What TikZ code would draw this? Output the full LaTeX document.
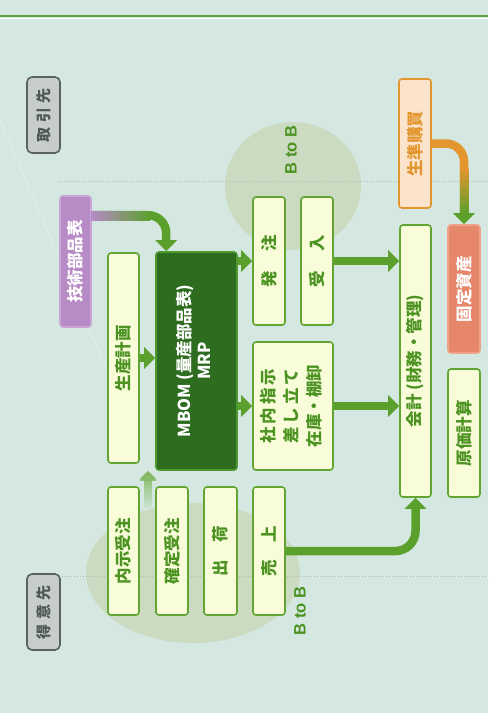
\documentclass[tikz,border=0pt]{standalone}
\usepackage{fontspec}
\setmainfont{Noto Sans CJK JP}
\newfontfamily\latinfont{Liberation Sans}
\usetikzlibrary{arrows.meta,fadings,calc}
\definecolor{bg}{HTML}{D4E8E1}
\definecolor{bgreen}{HTML}{62A532}
\definecolor{bfill}{HTML}{F9FCD9}
\definecolor{tgreen}{HTML}{4C9322}
\definecolor{agreen}{HTML}{5BA02C}
\definecolor{mbomfill}{HTML}{2E6C20}
\definecolor{mbomline}{HTML}{4E9A30}
\definecolor{purp}{HTML}{B68BC6}
\definecolor{purpline}{HTML}{C9A6D5}
\definecolor{orangeC}{HTML}{E3952E}
\definecolor{ofill}{HTML}{FBE4CB}
\definecolor{kfill}{HTML}{E6876B}
\definecolor{kline}{HTML}{EFA18A}
\definecolor{gfill}{HTML}{C6CDCA}
\definecolor{gline}{HTML}{5A615E}
\definecolor{gtext}{HTML}{505854}
\definecolor{ellC}{HTML}{CADBC2}
\definecolor{topline}{HTML}{5FA63A}
\newcommand\rt[1]{\rotatebox{90}{#1}}
\newcommand\spreadtxt[2]{\makebox[#1pt]{#2}}
\begin{document}
\begin{tikzpicture}[x=1pt,y=-1pt,
  box/.style={draw=bgreen,line width=1.6pt,fill=bfill,rounded corners=3pt,inner sep=0pt,
    text=tgreen,font=\fontsize{16.5}{19}\selectfont\bfseries},
  gbox/.style={box,draw=gline,fill=gfill,text=gtext,rounded corners=5pt,font=\fontsize{15}{18}\selectfont\bfseries},
  obox/.style={box,draw=orangeC,fill=ofill,text=orangeC},
  sz/.style 2 args={minimum width=#1pt,minimum height=#2pt},
  arr/.style={draw=agreen,line width=8.5pt,-{Triangle[width=21pt,length=11pt]}},
  dotline/.style={draw=gray!60,dotted,line width=1pt},
  btob/.style={text=tgreen,font=\fontsize{16.5}{19}\latinfont\bfseries,rotate=90,inner sep=0pt},
]
\useasboundingbox (0,0) rectangle (488,713);
\fill[bg] (0,0) rectangle (488,713);
\draw[topline,line width=1.5pt] (0,16) -- (488,16);
\draw[white,line width=0.8pt] (0,18.5) -- (488,18.5);
% faint background lines
\draw[white,opacity=0.35,line width=0.6pt] (0,120) -- (120,400);
\draw[white,opacity=0.3,line width=0.6pt] (0,60) -- (90,330);
% ellipses
\fill[ellC] (293,186) ellipse [x radius=68, y radius=64];
\fill[ellC] (193,573) ellipse [x radius=107, y radius=70];
% dotted lines
\coordinate (d1a) at (58,181);
\coordinate (d1b) at (488,181);
\coordinate (d2a) at (62,576);
\coordinate (d2b) at (488,576);
\draw[dotline] (d1a) -- (d1b);
\draw[dotline] (d2a) -- (d2b);
% labels
\node[btob] (bb1) at (291,150) {B to B};
\node[btob] (bb2) at (300,611) {B to B};
% boxes
\node[gbox,sz={33}{76}] (tori) at (43.5,115) {\rt{\spreadtxt{54}{取\hfill 引\hfill 先}}};
\node[gbox,sz={33}{76}] (tokui) at (43.5,612) {\rt{\spreadtxt{54}{得\hfill 意\hfill 先}}};
\node[box,fill=purp,draw=purpline,text=white,sz={31}{131}] (giju) at (75.5,261.5) {\rt{技術部品表}};
\node[box,sz={31}{210}] (seisan) at (123.5,358) {\rt{生産計画}};
\node[box,fill=mbomfill,draw=mbomline,text=white,sz={81}{218},
  font=\fontsize{16.5}{20}\selectfont\bfseries] (mbom) at (196.5,361)
  {\rt{\begin{tabular}{@{}c@{}}MBOM (量産部品表)\\MRP\end{tabular}}};
\node[box,sz={32}{128}] (hacchu) at (269,261) {\rt{\spreadtxt{52}{発\hfill 注}}};
\node[box,sz={32}{128}] (ukeire) at (317,261) {\rt{\spreadtxt{52}{受\hfill 入}}};
\node[box,sz={80}{128},font=\fontsize{16.5}{23}\selectfont\bfseries] (shanai) at (293,406)
  {\rt{\begin{tabular}{@{}c@{}}\spreadtxt{75}{社\hfill 内\hfill 指\hfill 示}\\\spreadtxt{75}{差\hfill し\hfill 立\hfill て}\\\spreadtxt{75}{在庫・棚卸}\end{tabular}}};
\node[box,sz={31}{272}] (kaikei) at (415.5,361) {\rt{会計 (財務・管理)}};
\node[obox,sz={32}{129}] (seijun) at (415,143.5) {\rt{生準購買}};
\node[box,fill=kfill,draw=kline,text=white,sz={32}{128}] (kotei) at (464,289) {\rt{固定資産}};
\node[box,sz={32}{128}] (genka) at (464,433) {\rt{原価計算}};
\node[box,sz={31}{128}] (naiji) at (123.5,551) {\rt{内示受注}};
\node[box,sz={32}{128}] (kakutei) at (172,551) {\rt{確定受注}};
\node[box,sz={33}{128}] (shukka) at (220.5,551) {\rt{\spreadtxt{50}{出\hfill 荷}}};
\node[box,sz={32}{128}] (uriage) at (269,551) {\rt{\spreadtxt{50}{売\hfill 上}}};
% arrows
\draw[arr] (seisan.east) -- (seisan.east -| mbom.west);
\draw[arr] (mbom.east |- hacchu.west) -- (hacchu.west);
\draw[arr] (mbom.east |- shanai.west) -- (shanai.west);
\draw[arr] (ukeire.east) -- (ukeire.east -| kaikei.west);
\draw[arr] (shanai.east) -- (shanai.east -| kaikei.west);
\draw[arr,rounded corners=20pt] (uriage.east) -| (kaikei.south);
% giju -> mbom
\coordinate (gs) at ($(giju.north east)+(0,20)$);
\coordinate (ge) at ($(mbom.north west)+(11,0)$);
\draw[arr,rounded corners=18pt] (gs) -| (ge);
\shade[left color=purp,right color=agreen] (91,211.75) rectangle (150,220.25);
% seijun -> kotei
\draw[arr,draw=orangeC,rounded corners=18pt,-{Triangle[width=21pt,length=11pt,color=agreen]}] (seijun.east) -| (kotei.north);
\shade[top color=orangeC,bottom color=agreen] (459.75,168) rectangle (468.25,214.5);
% faded arrow
\coordinate (fs) at (148,508);
\draw[arr,draw=agreen!80,line width=8pt,path fading=south,-{Triangle[width=20pt,length=10pt]}] (fs) -- (fs |- mbom.south);
\end{tikzpicture}
\end{document}
